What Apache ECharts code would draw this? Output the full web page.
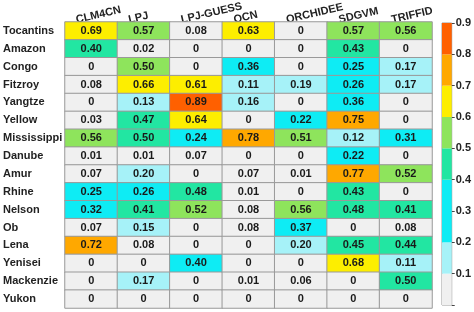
<!DOCTYPE html>
<html>
<head>
<meta charset="utf-8">
<script src="https://cdn.jsdelivr.net/npm/echarts@6/dist/echarts.min.js"></script>
<style>html,body{margin:0;padding:0;background:#fff;}#c{width:474px;height:312px;}</style>
</head>
<body>
<div id="c"></div>
<script>
const rivers = ['Tocantins','Amazon','Congo','Fitzroy','Yangtze','Yellow','Mississippi','Danube','Amur','Rhine','Nelson','Ob','Lena','Yenisei','Mackenzie','Yukon'];
const models = ['CLM4CN','LPJ','LPJ-GUESS','OCN','ORCHIDEE','SDGVM','TRIFFID'];
const clm4cn   = [0.69, 0.402, 0, 0.08, 0, 0.03, 0.56, 0.01, 0.07, 0.25, 0.32, 0.07, 0.72, 0, 0, 0];
const lpj      = [0.57, 0.02, 0.504, 0.66, 0.13, 0.47, 0.496, 0.01, 0.198, 0.26, 0.41, 0.15, 0.08, 0, 0.17, 0];
const lpjGuess = [0.08, 0, 0, 0.61, 0.89, 0.64, 0.24, 0.07, 0, 0.48, 0.52, 0, 0, 0.397, 0, 0];
const ocn      = [0.63, 0, 0.36, 0.11, 0.16, 0, 0.78, 0, 0.07, 0.01, 0.08, 0.08, 0, 0, 0.01, 0];
const orchidee = [0, 0, 0, 0.19, 0, 0.22, 0.51, 0, 0.01, 0, 0.56, 0.37, 0.198, 0, 0.06, 0];
const sdgvm    = [0.57, 0.43, 0.25, 0.26, 0.36, 0.75, 0.12, 0.22, 0.77, 0.43, 0.48, 0, 0.45, 0.68, 0, 0];
const triffid  = [0.56, 0, 0.17, 0.17, 0, 0, 0.31, 0, 0.52, 0, 0.41, 0.08, 0.44, 0.11, 0.496, 0];
const binEdges = [0, 0.1, 0.2, 0.3, 0.4, 0.5, 0.6, 0.7, 0.8, 0.9];
const binColors = ['#f0f0f0', '#a6f2f8', '#0eecf4', '#0eecf4', '#22e6a2', '#8ee45c', '#fdee00', '#ffa800', '#ff6000'];

const columns = [clm4cn, lpj, lpjGuess, ocn, orchidee, sdgvm, triffid];
const data = [];
columns.forEach((col, xi) => col.forEach((v, yi) => data.push([xi, yi, v])));

const font = 'Arial, "Liberation Sans", sans-serif';
const pieces = binColors.map((c, i) => i === binColors.length - 1
  ? { gte: binEdges[i], lte: 1, color: c }
  : { gte: binEdges[i], lt: binEdges[i + 1], color: c });

const chart = echarts.init(document.getElementById('c'));
chart.setOption({
  animation: false,
  textStyle: { fontFamily: font },
  grid: [
    { left: 64, right: 42, top: 22, bottom: 4 },
    { left: 51, right: 55, top: 22, bottom: 4 },
    { left: 442, width: 10, top: 23, bottom: 7, show: true, borderColor: '#999', borderWidth: 1, backgroundColor: 'transparent' }
  ],
  xAxis: [
    { gridIndex: 0, type: 'category', data: models, position: 'top',
      axisLabel: { show: false }, axisLine: { show: false }, axisTick: { show: false }, splitLine: { show: false } },
    { gridIndex: 1, type: 'category', data: models, position: 'top',
      axisLabel: { interval: 0, rotate: -13, align: 'left', verticalAlign: 'bottom', margin: 2, overflow: 'none',
        fontWeight: 'bold', fontSize: 11, color: '#222', fontFamily: font },
      axisLine: { show: false }, axisTick: { show: false }, splitLine: { show: false } },
    { gridIndex: 2, type: 'category', data: ['cb'], show: false }
  ],
  yAxis: [
    { gridIndex: 0, type: 'category', data: rivers, inverse: true,
      axisLabel: { interval: 0, align: 'left', margin: 62, fontWeight: 'bold', fontSize: 11, color: '#222', fontFamily: font },
      axisLine: { show: false }, axisTick: { show: false }, splitLine: { show: false } },
    { gridIndex: 1, type: 'category', data: rivers, show: false },
    { gridIndex: 2, type: 'value', min: 0, max: 0.9, interval: 0.1, position: 'right',
      axisLine: { show: false },
      axisTick: { show: true, length: 3, lineStyle: { color: '#444' } },
      axisLabel: { margin: 4, fontWeight: 'bold', fontSize: 11, color: '#222', fontFamily: font,
        formatter: v => v === 0 ? '' : v.toFixed(1) },
      splitLine: { show: false } }
  ],
  visualMap: { type: 'piecewise', show: false, seriesIndex: 0, dimension: 2, pieces: pieces },
  series: [
    { type: 'heatmap', xAxisIndex: 0, yAxisIndex: 0, data: data,
      label: { show: true, fontWeight: 'bold', fontSize: 11, color: '#1a1a1a', fontFamily: font,
        formatter: p => p.value[2] === 0 ? '0' : p.value[2].toFixed(2) },
      itemStyle: { borderColor: '#999', borderWidth: 1 },
      emphasis: { disabled: true } }
  ].concat(binColors.map((c, i) => ({
    type: 'bar', xAxisIndex: 2, yAxisIndex: 2, stack: 'cb', barWidth: '100%', silent: true,
    data: [+(binEdges[i + 1] - binEdges[i]).toFixed(2)], itemStyle: { color: c }
  })))
});
</script>
</body>
</html>
